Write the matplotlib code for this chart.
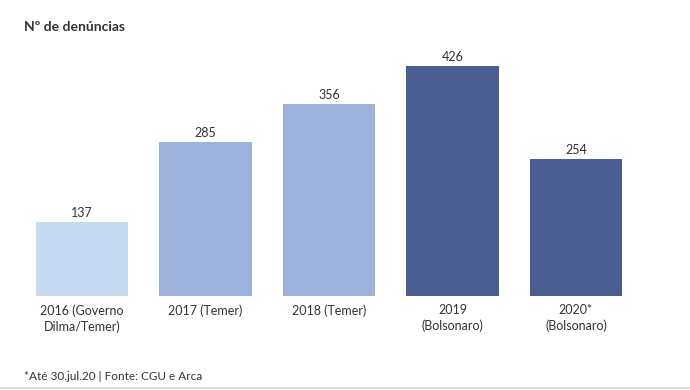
import matplotlib.pyplot as plt

labels = ["2016 (Governo\nDilma/Temer)", "2017 (Temer)", "2018 (Temer)",
          "2019\n(Bolsonaro)", "2020*\n(Bolsonaro)"]
values = [137, 285, 356, 426, 254]
colors = ["#c6dbf2", "#9cb2dc", "#9cb2dc", "#4b5e91", "#4b5e91"]

plt.rcParams['font.family'] = ['Lato', 'DejaVu Sans']

fig = plt.figure(figsize=(6.9, 3.9), dpi=100)
W, H = 690, 390
ax = fig.add_axes([20.25 / W, 94 / H, 617.5 / W, 256 / H])

x = range(len(values))
ax.bar(x, values, width=0.745, color=colors)
for xi, v in zip(x, values):
    ax.text(xi, v + 5, str(v), ha="center", va="bottom", fontsize=9, color="#333333")

ax.set_xlim(-0.5, 4.5)
ax.set_ylim(0, 474)
ax.set_xticks(list(x))
ax.set_xticklabels(labels, fontsize=9, color="#333333", linespacing=1.3)
ax.tick_params(axis="x", length=0, pad=6)
ax.set_yticks([])
for s in ax.spines.values():
    s.set_visible(False)

fig.text(24 / W, 1 - 27 / H, "Nº de denúncias", fontsize=10, fontweight="bold",
         color="#333333", va="center")
fig.text(24 / W, 1 - 376 / H, "*Até 30.jul.20 | Fonte: CGU e Arca", fontsize=8.5,
         color="#333333", va="center")
fig.add_artist(plt.Line2D([0, 1], [1 - 387.5 / H] * 2, color="#dddddd", lw=1.5))

fig.savefig("out.png", dpi=100)
